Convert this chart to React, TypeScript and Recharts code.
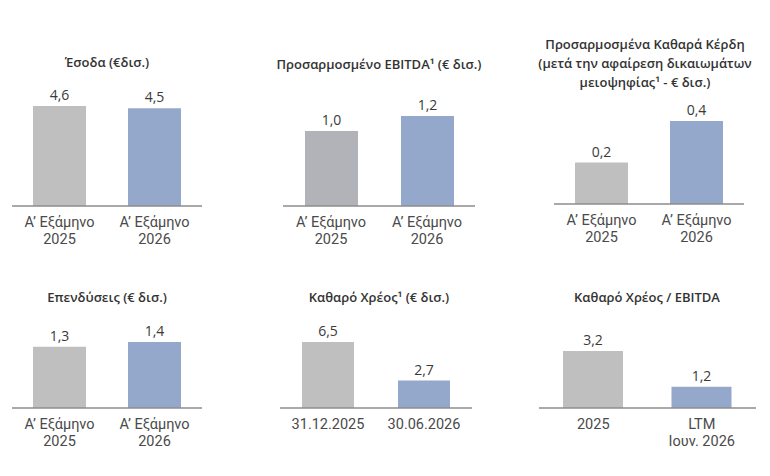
import { BarChart, Bar, XAxis, YAxis, Cell, LabelList } from 'recharts';

const halfYearLabels = ['Α’ Εξάμηνο\n2025', 'Α’ Εξάμηνο\n2026'];
const revenueValues = [4.6, 4.5];
const ebitdaValues = [1.0, 1.2];
const netProfitValues = [0.2, 0.4];
const capexValues = [1.3, 1.4];
const netDebtLabels = ['31.12.2025', '30.06.2026'];
const netDebtValues = [6.5, 2.7];
const leverageLabels = ['2025', 'LTM\nΙουν. 2026'];
const leverageValues = [3.2, 1.2];

const FONT = '"Open Sans", "Noto Sans", sans-serif';
const TICK_FONT = 'Roboto, "Open Sans", sans-serif';
const GRAY = '#bfbfbf';
const BLUE = '#94a8cb';

interface PanelProps {
    title: string;
    titleX: number;
    titleY: number;
    labels: string[];
    values: number[];
    left: number;
    right: number;
    plotTop: number;
    baseline: number;
    barSize: number;
    colors: string[];
}

// each line gets its own <text>; Roboto keeps the line boxes inside the 17px step
function MultiLineTick({ x, y, payload }: any) {
    const lines = String(payload.value).split('\n');
    return (
        <g>
            {lines.map((line, i) => (
                <text key={i} x={x} y={y + 21 + i * 17} textAnchor="middle" fill="#4a4a4a" fontSize={14.5} fontFamily={TICK_FONT}>
                    {line}
                </text>
            ))}
        </g>
    );
}

function Panel({ title, titleX, titleY, labels, values, left, right, plotTop, baseline, barSize, colors }: PanelProps) {
    const data = labels.map((name, i) => ({ name, value: values[i] }));
    const mTop = 30;
    const axisH = 50;
    const width = right - left + 20;
    const height = mTop + (baseline - plotTop) + axisH;
    return (
        <>
            <div
                style={{
                    position: 'absolute',
                    left: titleX - 150,
                    top: titleY - 10,
                    width: 300,
                    textAlign: 'center',
                    whiteSpace: 'pre',
                    fontFamily: FONT,
                    fontSize: 13,
                    fontWeight: 600,
                    lineHeight: '19px',
                    color: '#333',
                }}
            >
                {title}
            </div>
            <div style={{ position: 'absolute', left: left - 10, top: plotTop - mTop }}>
                <BarChart width={width} height={height} data={data} margin={{ top: mTop, right: 10, left: 10, bottom: 0 }}>
                    <XAxis
                        dataKey="name"
                        height={axisH}
                        interval={0}
                        tickLine={false}
                        tickSize={0}
                        tickMargin={0}
                        axisLine={{ stroke: '#8c8c8c', strokeWidth: 1.5 }}
                        tick={<MultiLineTick />}
                    />
                    <YAxis hide domain={[0, 'dataMax']} />
                    <Bar dataKey="value" barSize={barSize} isAnimationActive={false}>
                        {data.map((_, i) => (
                            <Cell key={i} fill={colors[i]} />
                        ))}
                        <LabelList
                            dataKey="value"
                            position="top"
                            offset={6}
                            fill="#3a3a3a"
                            fontSize={14}
                            fontFamily={FONT}
                            formatter={(v: any) => Number(v).toFixed(1).replace('.', ',')}
                        />
                    </Bar>
                </BarChart>
            </div>
        </>
    );
}

export default function App() {
    return (
        <div style={{ position: 'absolute', left: 0, top: 0, width: 770, height: 476, background: '#fff' }}>
            <Panel title="Έσοδα (€δισ.)" titleX={107} titleY={63} labels={halfYearLabels} values={revenueValues}
                left={12} right={202} plotTop={106} baseline={206} barSize={53} colors={[GRAY, BLUE]} />
            <Panel title="Προσαρμοσμένο EBITDA¹ (€ δισ.)" titleX={379} titleY={65} labels={halfYearLabels} values={ebitdaValues}
                left={283} right={475} plotTop={116} baseline={206} barSize={53} colors={['#b2b2b9', BLUE]} />
            <Panel title={'Προσαρμοσμένα Καθαρά Κέρδη\n(μετά την αφαίρεση δικαιωμάτων\nμειοψηφίας¹ - € δισ.)'} titleX={645} titleY={45}
                labels={halfYearLabels} values={netProfitValues}
                left={554} right={744} plotTop={121} baseline={204} barSize={53} colors={[GRAY, BLUE]} />
            <Panel title="Επενδύσεις (€ δισ.)" titleX={107} titleY={298} labels={halfYearLabels} values={capexValues}
                left={12} right={202} plotTop={342} baseline={408} barSize={53} colors={[GRAY, BLUE]} />
            <Panel title="Καθαρό Χρέος¹ (€ δισ.)" titleX={379} titleY={298} labels={netDebtLabels} values={netDebtValues}
                left={280} right={472} plotTop={342} baseline={408} barSize={52} colors={[GRAY, BLUE]} />
            <Panel title="Καθαρό Χρέος / EBITDA" titleX={647} titleY={298} labels={leverageLabels} values={leverageValues}
                left={539} right={756} plotTop={351} baseline={408} barSize={60} colors={[GRAY, BLUE]} />
        </div>
    );
}
